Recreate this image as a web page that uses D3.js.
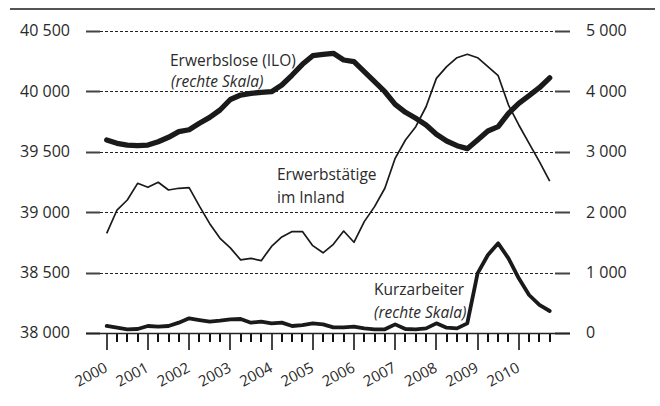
<!DOCTYPE html>
<html>
  <head>
    <meta charset="utf-8">
    <script src="https://d3js.org/d3.v7.min.js"></script>
    <style>
      body { margin: 0; background: #fff; }
      text { font-family: "Open Sans", "Noto Sans", sans-serif; fill: #2a2a2a; }
    </style>
  </head>
  <body>
    <div id="chart"></div>
    <script>
      // Data (quarters 2000Q1 .. 2010Q4), in thousands
      const years = [2000, 2001, 2002, 2003, 2004, 2005, 2006, 2007, 2008, 2009, 2010];
      const quarters = d3.range(44).map(i => 2000 + i / 4);

      // Erwerbstätige im Inland (left scale)
      const erwerbstaetige = [
        38825, 39018, 39101, 39239, 39206, 39248, 39184, 39198,
        39203, 39050, 38905, 38784, 38705, 38605, 38618, 38599,
        38717, 38795, 38840, 38840, 38723, 38664, 38734, 38844,
        38751, 38922, 39046, 39198, 39446, 39598, 39708, 39873,
        40108, 40205, 40279, 40307, 40279, 40205, 40130, 39887,
        39722, 39570, 39418, 39258
      ];

      // Erwerbslose (ILO), right scale
      const erwerbslose = [
        3195, 3140, 3112, 3101, 3112, 3167, 3240, 3333,
        3365, 3472, 3570, 3692, 3866, 3940, 3968, 3985,
        3995, 4106, 4271, 4448, 4591, 4614, 4630, 4520,
        4492, 4326, 4161, 3995, 3786, 3654, 3555, 3444,
        3290, 3179, 3101, 3052, 3195, 3344, 3416, 3637,
        3803, 3929, 4061, 4225
      ];

      // Kurzarbeiter, right scale
      const kurzarbeiter = [
        116, 88, 61, 66, 116, 104, 116, 171,
        243, 215, 187, 204, 226, 232, 171, 187,
        160, 171, 116, 132, 160, 143, 94, 94,
        104, 77, 61, 61, 143, 66, 61, 77,
        160, 88, 77, 160, 988, 1291, 1485, 1236,
        905, 629, 464, 364
      ];

      const leftTicks = [38000, 38500, 39000, 39500, 40000, 40500];
      const rightTicks = [0, 1000, 2000, 3000, 4000, 5000];

      const W = 660, H = 406;
      const svg = d3.select("#chart")
        .append("svg")
        .attr("width", W)
        .attr("height", H);

      const x = d3.scaleLinear().domain([2000, 2011]).range([106.7, 560]);
      const yL = d3.scaleLinear().domain([38000, 40500]).range([333, 31]);
      const yR = d3.scaleLinear().domain([0, 5000]).range([333, 31]);

      const fmt = v => d3.format(",")(v).replace(",", " ");
      const crisp = v => Math.round(v) + 0.5;

      // top rule
      svg.append("path")
        .attr("d", "M10,9H655")
        .attr("fill", "none")
        .attr("stroke", "#555")
        .attr("stroke-width", 2);

      // dashed grid
      svg.append("path")
        .attr("d", leftTicks.slice(1).map(d => `M100,${crisp(yL(d))}H555`).join(""))
        .attr("fill", "none")
        .attr("stroke", "#222")
        .attr("stroke-width", 1)
        .attr("stroke-dasharray", "3,2");

      // y tick marks, both sides
      svg.append("path")
        .attr("d", leftTicks.map(d => `M86,${crisp(yL(d))}H100`).join("")
          + rightTicks.map(d => `M555,${crisp(yR(d))}H570`).join(""))
        .attr("fill", "none")
        .attr("stroke", "#444")
        .attr("stroke-width", 2);

      // y tick labels
      svg.append("g")
        .selectAll("text")
        .data(leftTicks)
        .join("text")
        .attr("x", 70).attr("y", d => yL(d))
        .attr("dy", "0.34em")
        .attr("text-anchor", "end")
        .style("font-size", "16px")
        .text(fmt);

      svg.append("g")
        .selectAll("text")
        .data(rightTicks)
        .join("text")
        .attr("x", 586).attr("y", d => yR(d))
        .attr("dy", "0.34em")
        .style("font-size", "16px")
        .text(fmt);

      // x axis ticks: quarters (short) and years (long)
      svg.append("path")
        .attr("d", quarters.filter(d => !Number.isInteger(d))
          .map(d => `M${Math.round(x(d))},333V342`).join(""))
        .attr("fill", "none")
        .attr("stroke", "#111")
        .attr("stroke-width", 2);

      svg.append("path")
        .attr("d", years.map(d => `M${Math.round(x(d))},333V350`).join(""))
        .attr("fill", "none")
        .attr("stroke", "#444")
        .attr("stroke-width", 2);

      // year labels
      svg.append("g")
        .selectAll("text")
        .data(years)
        .join("text")
        .attr("transform", d => `translate(${x(d) + 2},371) rotate(-28)`)
        .attr("text-anchor", "end")
        .style("font-size", "15px")
        .text(d3.format("d"));

      // baseline
      svg.append("path")
        .attr("d", `M86,${crisp(yL(38000))}H570`)
        .attr("fill", "none")
        .attr("stroke", "#222")
        .attr("stroke-width", 1.4);

      // lines
      const lineL = d3.line().x((d, i) => x(quarters[i])).y(d => yL(d));
      const lineR = d3.line().x((d, i) => x(quarters[i])).y(d => yR(d));

      svg.append("path")
        .datum(erwerbstaetige)
        .attr("d", lineL)
        .attr("fill", "none")
        .attr("stroke", "#1a1a1a")
        .attr("stroke-width", 1.7)
        .attr("stroke-linejoin", "round");

      svg.append("path")
        .datum(kurzarbeiter)
        .attr("d", lineR)
        .attr("fill", "none")
        .attr("stroke", "#1a1a1a")
        .attr("stroke-width", 3.8)
        .attr("stroke-linejoin", "round")
        .attr("stroke-linecap", "round");

      svg.append("path")
        .datum(erwerbslose)
        .attr("d", lineR)
        .attr("fill", "none")
        .attr("stroke", "#1a1a1a")
        .attr("stroke-width", 5.3)
        .attr("stroke-linejoin", "round")
        .attr("stroke-linecap", "round");

      // labels
      const label = (tx, ty, txt, italic) => svg.append("text")
        .attr("x", tx).attr("y", ty)
        .style("font-size", "15.5px")
        .style("font-style", italic ? "italic" : "normal")
        .text(txt);

      label(170, 66, "Erwerbslose (ILO)");
      label(171, 87, "(rechte Skala)", true);
      label(277, 180, "Erwerbstätige");
      label(277, 203, "im Inland");
      label(374, 295, "Kurzarbeiter");
      label(374, 318, "(rechte Skala)", true);
    </script>
  </body>
</html>
